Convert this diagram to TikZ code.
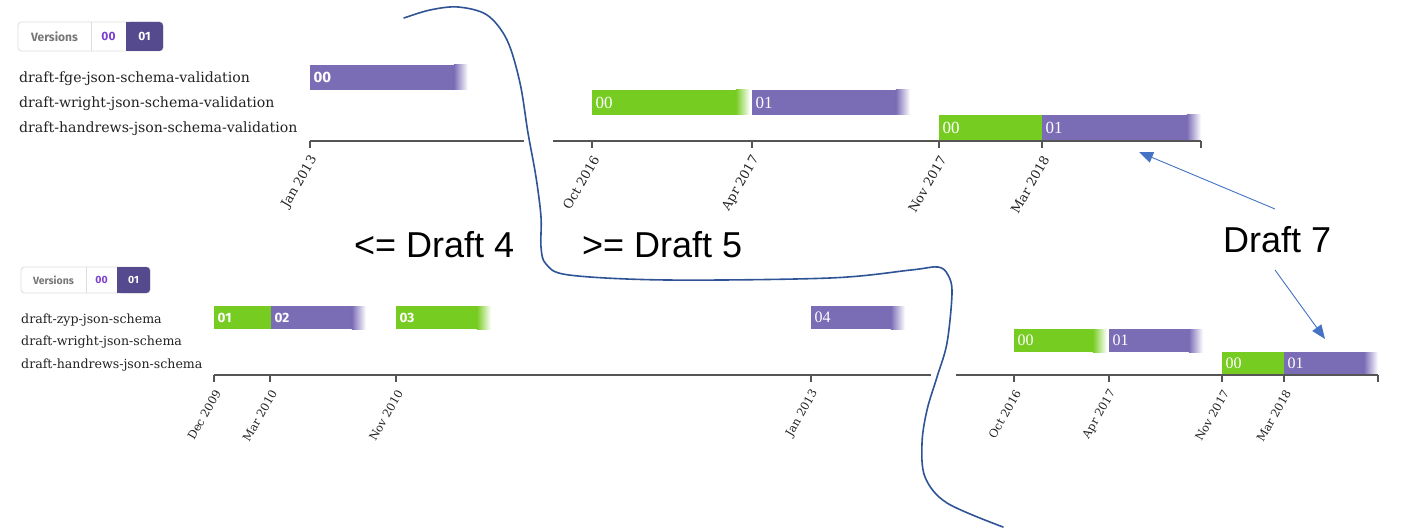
\documentclass[tikz,border=0pt]{standalone}
\usepackage{fontspec}
\usetikzlibrary{arrows.meta}
\newfontfamily\lblfont{DejaVu Serif}
\newfontfamily\tickfont{Liberation Serif}
\newfontfamily\uisans{Fira Sans}
\newfontfamily\bigsans{Liberation Sans}
\definecolor{barGreen}{HTML}{77CC22}
\definecolor{barPurple}{HTML}{7B6CB6}
\definecolor{verDark}{HTML}{554A8E}
\definecolor{verText}{HTML}{7B3FD0}
\definecolor{verGray}{HTML}{777777}
\definecolor{verBorder}{HTML}{DDDDDD}
\definecolor{curveCol}{HTML}{2F5496}
\definecolor{arrowCol}{HTML}{4472C4}
\definecolor{axisCol}{HTML}{555555}
\definecolor{lblCol}{HTML}{222222}
\newcommand{\fadebar}[7]{%
  \fill[#6] (#2,#4) rectangle ({#3-14},{#4+#5});
  \shade[left color=#6,right color=white] ({#3-14.2},#4) rectangle (#3,{#4+#5});
  \node[barlbl] (#1) at ({#2+2.5},{#4+#5/2}) {#7};}
\newcommand{\solidbar}[7]{%
  \fill[#6] (#2,#4) rectangle (#3,{#4+#5});
  \node[barlbl] (#1) at ({#2+2.5},{#4+#5/2}) {#7};}
\newcommand{\tickmk}[5]{%
  \draw[axisline] (#2,#3) -- (#2,{#3+7});
  \node[#5] (#1) at ({#2+4},{#3+16}) {#4};}
\newcommand{\bsT}{\uisans\bfseries\fontsize{15}{15}\selectfont}
\newcommand{\bsB}{\uisans\bfseries\fontsize{13.5}{13.5}\selectfont}
\newcommand{\srT}{\tickfont\fontsize{17}{17}\selectfont}
\newcommand{\srB}{\tickfont\fontsize{16}{16}\selectfont}
\begin{document}
\begin{tikzpicture}[x=1pt,y=-1pt,
  barlbl/.style={anchor=west,text=white,inner sep=1pt},
  axisline/.style={draw=axisCol,line width=1.4pt},
  tickT/.style={anchor=east,rotate=60,inner sep=0pt,text=lblCol,font=\lblfont\fontsize{12.8}{12.8}\selectfont},
  tickB/.style={anchor=east,rotate=60,inner sep=0pt,text=lblCol,font=\lblfont\fontsize{11.4}{11.4}\selectfont},
  lblT/.style={anchor=base west,inner sep=0pt,text=lblCol,font=\lblfont\fontsize{14.1}{14.1}\selectfont},
  lblB/.style={anchor=base west,inner sep=0pt,text=lblCol,font=\lblfont\fontsize{12.6}{12.6}\selectfont},
  bigtxt/.style={anchor=base west,inner sep=0pt,text=black,font=\bigsans\fontsize{36}{36}\selectfont},
  vertxt/.style={inner sep=0pt,font=\uisans\bfseries\fontsize{#1}{#1}\selectfont},
  arr/.style={draw=arrowCol,line width=0.9pt,-{Triangle[length=14pt,width=11pt]}}]
\useasboundingbox[fill=white] (0,0) rectangle (1412,529);

% ---------- top versions box
\draw[verBorder,line width=0.8pt,rounded corners=3.5pt,fill=white] (18,22) rectangle (163,51);
\fill[verDark,rounded corners=3.5pt] (126,22) rectangle (163,51);
\fill[verDark] (126,22) rectangle (136,51);
\draw[verBorder,line width=0.8pt] (91,22) -- (91,51);
\node[vertxt=12,text=verGray] (tv) at (54.5,36.5) {Versions};
\node[vertxt=12,text=verText] (tv0) at (108.5,36.5) {00};
\node[vertxt=12,text=white] (tv1) at (144.5,36.5) {01};

% ---------- top labels
\node[lblT] (tl1) at (19,82.5) {draft-fge-json-schema-validation};
\node[lblT] (tl2) at (19,107.5) {draft-wright-json-schema-validation};
\node[lblT] (tl3) at (19,133) {draft-handrews-json-schema-validation};

% ---------- top bars
\fadebar{tb1}{310}{468}{65}{25}{barPurple}{\bsT 00}
\fadebar{tb2}{592}{750}{90}{25}{barGreen}{\srT 00}
\fadebar{tb3}{752}{910}{90}{25}{barPurple}{\srT 01}
\solidbar{tb4}{939}{1042}{115}{25.5}{barGreen}{\srT 00}
\fadebar{tb5}{1042}{1201}{115}{25.5}{barPurple}{\srT 01}

% ---------- top axis
\draw[axisline] (310,141) -- (524,141);
\draw[axisline] (553,141) -- (1201,141);
\tickmk{tt1}{310}{141}{Jan 2013}{tickT}
\tickmk{tt2}{592}{141}{Oct 2016}{tickT}
\tickmk{tt3}{752}{141}{Apr 2017}{tickT}
\tickmk{tt4}{939}{141}{Nov 2017}{tickT}
\tickmk{tt5}{1042}{141}{Mar 2018}{tickT}
\draw[axisline] (1201,141) -- (1201,148);

% ---------- bottom versions box
\draw[verBorder,line width=0.8pt,rounded corners=3.5pt,fill=white] (21,267) rectangle (150,293);
\fill[verDark,rounded corners=3.5pt] (117,267) rectangle (150,293);
\fill[verDark] (117,267) rectangle (126,293);
\draw[verBorder,line width=0.8pt] (86,267) -- (86,293);
\node[vertxt=10.5,text=verGray] (bv) at (53.5,280) {Versions};
\node[vertxt=10.5,text=verText] (bv0) at (101.5,280) {00};
\node[vertxt=10.5,text=white] (bv1) at (133.5,280) {01};

% ---------- bottom labels
\node[lblB] (bl1) at (21,323) {draft-zyp-json-schema};
\node[lblB] (bl2) at (21,345.5) {draft-wright-json-schema};
\node[lblB] (bl3) at (21,368) {draft-handrews-json-schema};

% ---------- bottom bars
\solidbar{bb1}{214}{271}{306}{23}{barGreen}{\bsB 01}
\fadebar{bb2}{271}{366}{306}{23}{barPurple}{\bsB 02}
\fadebar{bb3}{396}{491}{306}{23}{barGreen}{\bsB 03}
\fadebar{bb4}{811}{905}{306}{23}{barPurple}{\srB 04}
\fadebar{bb5}{1014}{1107}{329}{23}{barGreen}{\srB 00}
\fadebar{bb6}{1109}{1203}{329}{23}{barPurple}{\srB 01}
\solidbar{bb7}{1222}{1284}{352}{23.5}{barGreen}{\srB 00}
\fadebar{bb8}{1284}{1378}{352}{23.5}{barPurple}{\srB 01}

% ---------- bottom axis
\draw[axisline] (214,375) -- (931,375);
\draw[axisline] (956,375) -- (1378,375);
\tickmk{bt1}{214}{375}{Dec 2009}{tickB}
\tickmk{bt2}{270}{375}{Mar 2010}{tickB}
\tickmk{bt3}{396}{375}{Nov 2010}{tickB}
\tickmk{bt4}{811}{375}{Jan 2013}{tickB}
\tickmk{bt5}{1014}{375}{Oct 2016}{tickB}
\tickmk{bt6}{1109}{375}{Apr 2017}{tickB}
\tickmk{bt7}{1222}{375}{Nov 2017}{tickB}
\tickmk{bt8}{1284}{375}{Mar 2018}{tickB}
\draw[axisline] (1378,375) -- (1378,382);

% ---------- dividing curve
\draw[curveCol,line width=1.6pt,line cap=round] plot[smooth,tension=0.55] coordinates {
 (404,18) (430,10) (458,7) (487,15) (507,40) (520,83) (528,133) (536,177)
 (541,217) (541,247) (546,264) (569,275) (667,280) (830,278) (911,270)
 (938,267) (948,275) (952,293) (947,343) (937,377) (927,410) (922,443)
 (925,477) (947,503) (1003,527)};

% ---------- annotations
\node[bigtxt] (d4) at (354,258) {<= Draft 4};
\node[bigtxt] (d5) at (582,258) {>= Draft 5};
\node[bigtxt] (d7) at (1223,252) {Draft 7};
\coordinate (a1s) at (1275,209);
\coordinate (a1e) at (1139,152);
\coordinate (a2s) at (1275,270);
\coordinate (a2e) at (1325,339);
\draw[arr] (a1s) -- (a1e);
\draw[arr] (a2s) -- (a2e);
\end{tikzpicture}
\end{document}
